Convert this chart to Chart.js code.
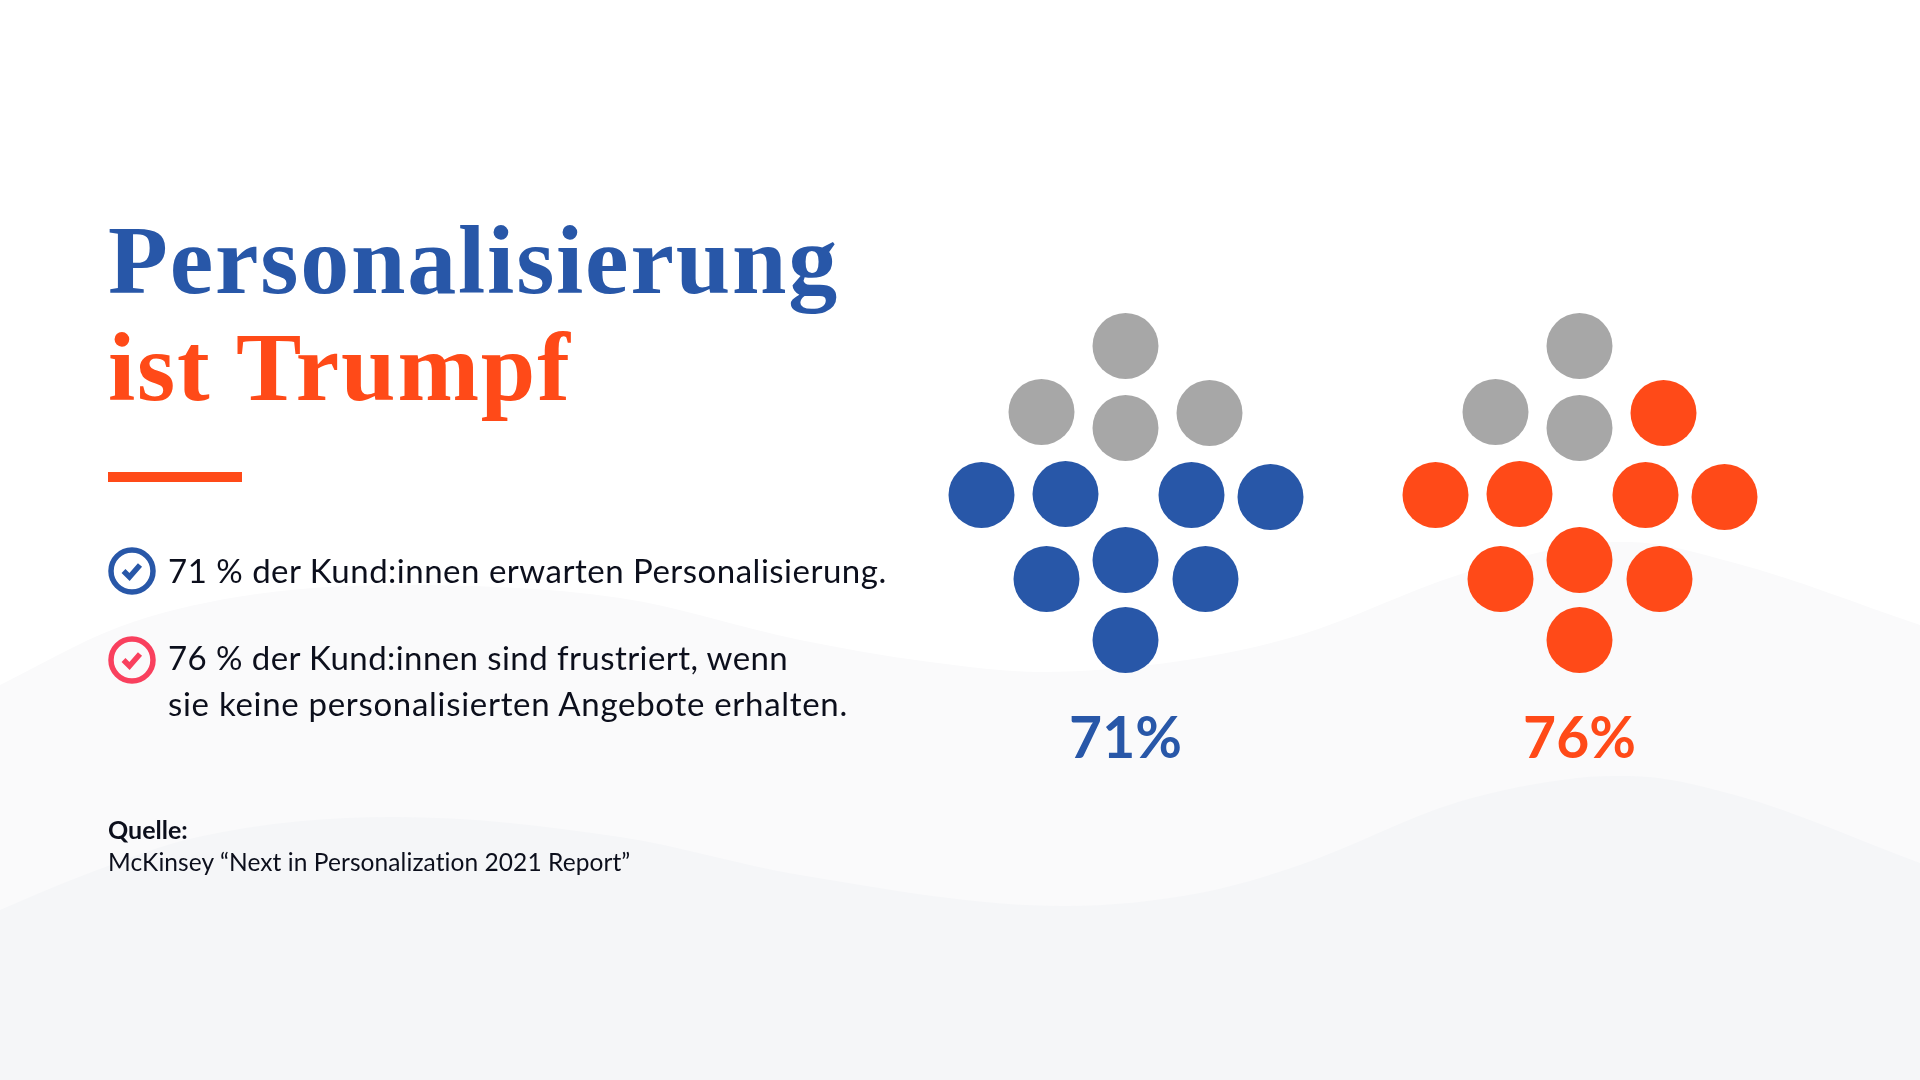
<!DOCTYPE html>
<html lang="de">
<head>
<meta charset="utf-8">
<title>Personalisierung ist Trumpf</title>
<script src="https://cdn.jsdelivr.net/npm/chart.js@4/dist/chart.umd.min.js"></script>
<style>
  html, body { margin: 0; padding: 0; background: #fff; }
  #page { position: relative; width: 1920px; height: 1080px; overflow: hidden; font-family: Lato, sans-serif; color: #0c0f1c; font-variant-ligatures: none; }
  #chartBox { position: absolute; left: 0; top: 0; width: 1920px; height: 1080px; }
  .txt { position: absolute; white-space: nowrap; }
  .head { font-family: "Liberation Serif", serif; font-weight: 700; font-size: 98px; line-height: 108px; left: 108px; letter-spacing: 1.8px; }
  .body { font-size: 33px; line-height: 46px; left: 168px; }
  .pct { font-size: 57px; line-height: 70px; font-weight: 700; text-align: center; width: 300px; }
  .icon { position: absolute; left: 108px; }
</style>
</head>
<body>
<div id="page">
  <div id="chartBox"><canvas id="dots"></canvas></div>

  <div class="txt head" style="top:206px;color:#2857a8">Personalisierung</div>
  <div class="txt head" style="top:313px;color:#ff4a18">ist Trumpf</div>
  <div style="position:absolute;left:108px;top:472px;width:134px;height:10px;background:#ff4a18"></div>

  <svg class="icon" style="top:547px" width="48" height="48" viewBox="0 0 48 48">
    <circle cx="24" cy="24" r="21" fill="none" stroke="#2857a8" stroke-width="5.5"/>
    <polyline points="15.5,24 21.5,30 32,18" fill="none" stroke="#2857a8" stroke-width="5.5"/>
  </svg>
  <div class="txt body" style="top:547px;letter-spacing:.5px">71 % der Kund:innen erwarten Personalisierung.</div>

  <svg class="icon" style="top:636px" width="48" height="48" viewBox="0 0 48 48">
    <circle cx="24" cy="24" r="21" fill="none" stroke="#f9405e" stroke-width="5.5"/>
    <polyline points="15.5,24 21.5,30 32,18" fill="none" stroke="#f9405e" stroke-width="5.5"/>
  </svg>
  <div class="txt body" style="top:634px;letter-spacing:.42px">76 % der Kund:innen sind frustriert, wenn</div>
  <div class="txt body" style="top:680px;letter-spacing:.7px">sie keine personalisierten Angebote erhalten.</div>

  <div class="txt" style="left:108px;top:814px;font-size:25px;line-height:30px;font-weight:700">Quelle:</div>
  <div class="txt" style="left:108px;top:847px;font-size:24.5px;line-height:30px;letter-spacing:.08px">McKinsey “Next in Personalization 2021 Report”</div>

  <div class="txt pct" style="left:975.5px;top:701px;color:#2857a8">71%</div>
  <div class="txt pct" style="left:1429.5px;top:701px;color:#ff4a18">76%</div>
</div>

<script>
// values
var shares = [71, 76];
var filledDots = [8, 9];

// dot layout of one pictogram, grey dots first
var dotX = [0, -84, 0, 84, -144, -60, 66, 145, -79, 0, 80, 0];
var dotY = [346, 412, 428, 413, 495, 494, 495, 497, 579, 560, 579, 640];
var groupCenter = [1125.5, 1579.5];

// background waves
var waveBackX = [0, 119, 237, 395, 620, 800, 930, 1041, 1180, 1300, 1458, 1577, 1628, 1735, 1920];
var waveBackY = [685, 627, 597, 585, 598, 640, 662, 672, 661, 635, 575, 545, 542, 563, 625];
var waveFrontX = [0, 79, 198, 395, 620, 800, 1065, 1200, 1300, 1458, 1577, 1628, 1735, 1920];
var waveFrontY = [910, 877, 837, 817, 837, 875, 906, 893, 865, 802, 778, 776, 795, 863];

var grey = '#a7a7a7';
var blue = '#2857a8';
var orange = '#ff4a18';

function points(xs, ys) {
  var out = [];
  for (var i = 0; i < xs.length; i++) {
    out.push({x: xs[i], y: ys[i]});
  }
  return out;
}

// one dataset for the grey dots and one for the coloured dots of a group
function dotSets(groupIdx, color) {
  var xs = dotX.map(function(d) { return d + groupCenter[groupIdx]; });
  var greyCount = dotX.length - filledDots[groupIdx];
  var all = points(xs, dotY);
  return [
    {label: 'Rest ' + shares[groupIdx] + '%', data: all.slice(0, greyCount), backgroundColor: grey, order: 1},
    {label: shares[groupIdx] + '%', data: all.slice(greyCount), backgroundColor: color, order: 1}
  ];
}

// y axis is reversed, so 'start' fills down to the bottom of the page
function waveSet(label, data, color, order) {
  return {
    label: label,
    data: data,
    showLine: true,
    fill: 'start',
    backgroundColor: color,
    borderWidth: 0,
    pointRadius: 0,
    cubicInterpolationMode: 'monotone',
    order: order
  };
}

var datasets = [
  waveSet('wave back', points(waveBackX, waveBackY), '#fafafb', 10),
  waveSet('wave front', points(waveFrontX, waveFrontY), '#f5f6f8', 9)
].concat(dotSets(0, blue), dotSets(1, orange));

var ctx = document.getElementById('dots').getContext('2d');
var dotChart = new Chart(ctx, {
  type: 'scatter',
  data: {datasets: datasets},
  options: {
    responsive: true,
    maintainAspectRatio: false,
    animation: false,
    layout: {padding: 0, autoPadding: false},
    elements: {point: {radius: 33, borderWidth: 0, hoverRadius: 33}},
    plugins: {legend: {display: false}, tooltip: {enabled: false}},
    scales: {
      x: {type: 'linear', display: false, min: 0, max: 1920},
      y: {type: 'linear', display: false, min: 0, max: 1080, reverse: true}
    }
  }
});
</script>
</body>
</html>
